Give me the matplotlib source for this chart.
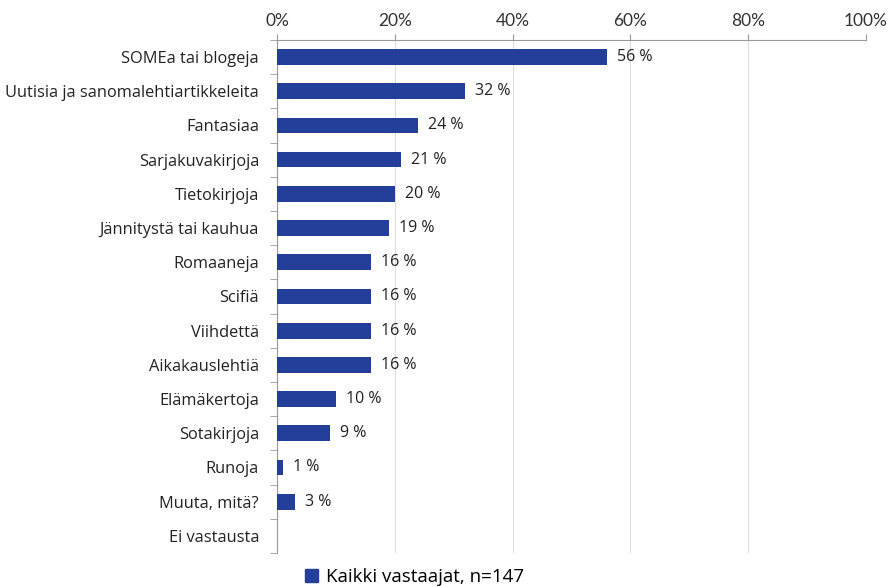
import matplotlib.pyplot as plt
import numpy as np

kategoriat = ['SOMEa tai blogeja', 'Uutisia ja sanomalehtiartikkeleita', 'Fantasiaa',
              'Sarjakuvakirjoja', 'Tietokirjoja', 'Jännitystä tai kauhua', 'Romaaneja',
              'Scifiä', 'Viihdettä', 'Aikakauslehtiä', 'Elämäkertoja', 'Sotakirjoja',
              'Runoja', 'Muuta, mitä?', 'Ei vastausta']
osuudet = [56, 32, 24, 21, 20, 19, 16, 16, 16, 16, 10, 9, 1, 3, 0]
tikit = [0, 20, 40, 60, 80, 100]

vari = '#233F99'
plt.rcParams['font.family'] = ['Open Sans', 'DejaVu Sans']

fig = plt.figure(figsize=(8.88, 5.87), dpi=100)
ax = fig.add_axes([0.312, 0.058, 0.663, 0.874])

y = np.arange(len(kategoriat))
ax.barh(y, osuudet, height=0.46, color=vari, zorder=3)
for yi, v in zip(y, osuudet):
    if v > 0:
        ax.text(v + 1.7, yi, f'{v} %', va='center', ha='left', fontsize=11.5, color='#222222')

ax.set_ylim(len(kategoriat) - 0.5, -0.5)
ax.set_xlim(0, 100)
ax.set_yticks(y)
ax.set_yticklabels(kategoriat, fontsize=11.8, color='#222222')
ax.set_yticks(np.arange(-0.5, len(kategoriat), 1), minor=True)
ax.tick_params(axis='y', which='major', length=0, pad=13)
ax.tick_params(axis='y', which='minor', length=5, color='#999999', direction='out')

ax.xaxis.tick_top()
ax.set_xticks(tikit)
ax.set_xticklabels([f'{t}%' for t in tikit], fontsize=12.5, color='#333333', family=['Lato', 'DejaVu Sans'])
ax.tick_params(axis='x', length=4, color='#999999', pad=4)
ax.grid(axis='x', color='#dddddd', linewidth=0.8, zorder=0)

for s in ['right', 'bottom']:
    ax.spines[s].set_visible(False)
ax.spines['top'].set_color('#999999')
ax.spines['left'].set_color('#999999')

ax.legend(handles=[plt.Rectangle((0, 0), 1, 1, color=vari)], labels=['Kaikki vastaajat, n=147'],
          loc='center', bbox_to_anchor=(0.467, 0.017), bbox_transform=fig.transFigure,
          frameon=False, fontsize=13.5, handlelength=0.7, handleheight=0.7, handletextpad=0.4)

fig.savefig('out.png', dpi=100)
